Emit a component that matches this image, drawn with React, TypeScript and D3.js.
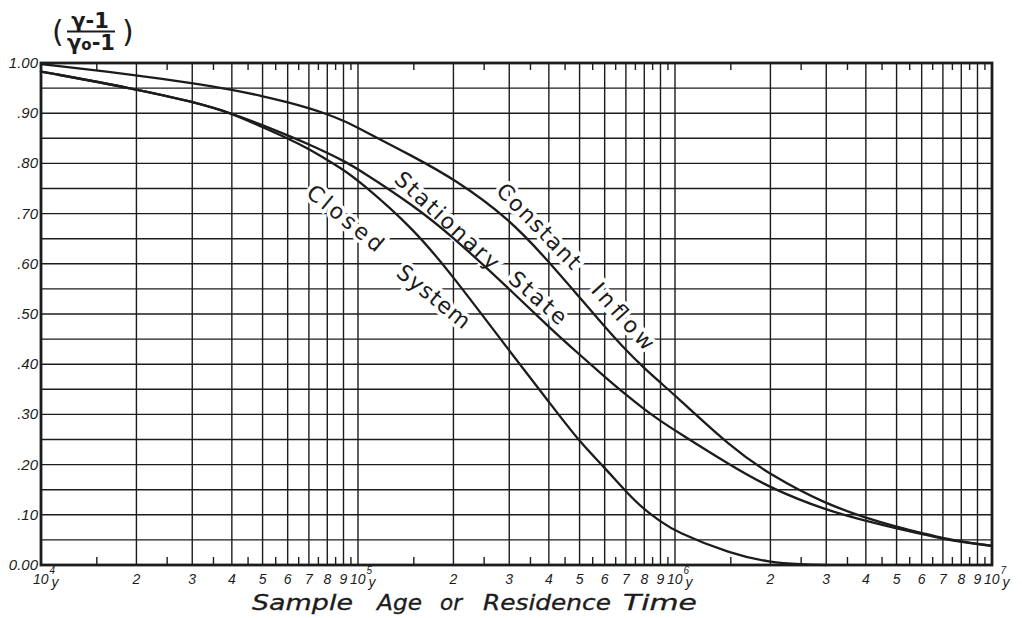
import React from 'react';
import * as d3 from 'd3';

// Ages (years) and normalised ratio (γ-1)/(γo-1) for each model curve
const constantInflowAge = [1e4, 2e4, 3e4, 4e4, 5e4, 6e4, 7e4, 8e4, 9e4, 1e5, 1.5e5, 2e5, 3e5, 4e5, 5e5, 6e5, 7e5, 8e5, 9e5, 1e6, 1.5e6, 2e6, 3e6, 4e6, 5e6, 6e6, 7e6, 8e6, 1e7];
const constantInflow = [0.998, 0.976, 0.96, 0.947, 0.934, 0.922, 0.91, 0.898, 0.885, 0.871, 0.813, 0.77, 0.69, 0.604, 0.533, 0.475, 0.428, 0.392, 0.363, 0.338, 0.235, 0.179, 0.121, 0.094, 0.076, 0.064, 0.053, 0.047, 0.038];

const stationaryAge = [1e4, 2e4, 3e4, 4e4, 5e4, 6e4, 7e4, 8e4, 9e4, 1e5, 1.5e5, 2e5, 3e5, 4e5, 5e5, 6e5, 7e5, 8e5, 9e5, 1e6, 1.5e6, 2e6, 3e6, 4e6, 5e6, 6e6, 7e6, 8e6, 1e7];
const stationaryState = [0.983, 0.948, 0.923, 0.9, 0.876, 0.856, 0.838, 0.821, 0.805, 0.789, 0.716, 0.653, 0.55, 0.474, 0.419, 0.375, 0.339, 0.31, 0.287, 0.268, 0.198, 0.153, 0.109, 0.088, 0.073, 0.062, 0.052, 0.046, 0.038];

const closedAge = [1e4, 2e4, 3e4, 4e4, 5e4, 6e4, 7e4, 8e4, 9e4, 1e5, 1.5e5, 2e5, 3e5, 4e5, 5e5, 6e5, 7e5, 8e5, 9e5, 1e6, 1.5e6, 2e6, 2.5e6, 3e6];
const closedSystem = [0.983, 0.948, 0.923, 0.9, 0.872, 0.85, 0.829, 0.807, 0.787, 0.767, 0.67, 0.574, 0.427, 0.325, 0.245, 0.194, 0.146, 0.11, 0.087, 0.067, 0.022, 0.005, 0.001, 0];

// Axis tick labels
const yTickValues = [0, 0.1, 0.2, 0.3, 0.4, 0.5, 0.6, 0.7, 0.8, 0.9, 1.0];
const yTickLabels = ['0.00', '.10', '.20', '.30', '.40', '.50', '.60', '.70', '.80', '.90', '1.00'];
const decadeExponents = [4, 5, 6, 7];
const decadeDigits = [2, 3, 4, 5, 6, 7, 8, 9];
const axisTitleWords = ['Sample', 'Age', 'or', 'Residence', 'Time'];

const W = 1022;
const H = 618;
const INK = '#1c1c1c';

export default function App() {
  const x = d3.scaleLog().domain([1e4, 1e7]).range([41, 992]);
  const y = d3.scaleLinear().domain([0, 1]).range([565, 63]);

  const decades = [1e4, 1e5, 1e6];
  const vGrid: number[] = [];
  const halfTicks: number[] = [];
  decades.forEach((d) => {
    decadeDigits.forEach((k) => vGrid.push(k * d));
    if (d > 1e4) vGrid.push(d);
    for (let k = 1; k <= 9; k++) halfTicks.push((k + 0.5) * d);
  });
  const hGrid = d3.range(1, 20).map((i) => i * 0.05);

  const line = d3
    .line<[number, number]>()
    .x((d) => x(d[0]))
    .y((d) => y(d[1]))
    .curve(d3.curveBasis);

  const series = [
    { name: 'Constant Inflow', ages: constantInflowAge, values: constantInflow },
    { name: 'Stationary State', ages: stationaryAge, values: stationaryState },
    { name: 'Closed System', ages: closedAge, values: closedSystem },
  ];

  // rotated curve captions: [text, start x, start y, end x, end y]
  const captions: [string, number, number, number, number][] = [
    ['Constant', 495, 192, 572, 271],
    ['Inflow', 590, 291, 645, 352],
    ['Stationary', 393, 181, 491, 271],
    ['State', 507, 281, 559, 326],
    ['Closed', 305, 195, 376, 253],
    ['System', 395, 275, 463, 330],
  ];

  // word extents for the horizontal axis title
  const titleSpans: [number, number][] = [
    [252, 353],
    [377, 422],
    [440, 462],
    [483, 611],
    [623, 697],
  ];

  const [x0, x1] = x.range();
  const [yb, yt] = y.range();

  return (
    <svg
      width={W}
      height={H}
      viewBox={`0 0 ${W} ${H}`}
      style={{ position: 'absolute', left: 0, top: 0, background: '#fff' }}
    >
      <rect x={0} y={0} width={W} height={H} fill="#fff" />

      {/* grid */}
      <g stroke={INK} strokeWidth={1.4}>
        {vGrid.map((v) => (
          <line key={'v' + v} x1={x(v)} x2={x(v)} y1={yt} y2={yb} />
        ))}
        {hGrid.map((v) => (
          <line key={'h' + v} x1={x0} x2={x1} y1={y(v)} y2={y(v)} />
        ))}
        {halfTicks.map((v) => (
          <g key={'t' + v}>
            <line x1={x(v)} x2={x(v)} y1={yt} y2={yt + 7} />
            <line x1={x(v)} x2={x(v)} y1={yb} y2={yb - 8} />
          </g>
        ))}
      </g>

      {/* curve captions */}
      <g
        fontFamily="DejaVu Sans, sans-serif"
        fontSize={22}
        fill={INK}
        stroke="#fff"
        strokeWidth={7}
        style={{ paintOrder: 'stroke' }}
      >
        {captions.map(([t, sx, sy, ex, ey]) => {
          const ang = (Math.atan2(ey - sy, ex - sx) * 180) / Math.PI;
          const len = Math.hypot(ex - sx, ey - sy);
          return (
            <text
              key={t}
              transform={`translate(${sx},${sy}) rotate(${ang})`}
              textLength={len}
              lengthAdjust="spacing"
            >
              {t}
            </text>
          );
        })}
      </g>

      {/* curves */}
      <g fill="none" stroke={INK} strokeWidth={2.3} strokeLinecap="round">
        {series.map((s) => (
          <path
            key={s.name}
            d={line(s.ages.map((a, i) => [a, s.values[i]] as [number, number])) || ''}
          />
        ))}
      </g>

      {/* frame */}
      <rect
        x={x0}
        y={yt}
        width={x1 - x0}
        height={yb - yt}
        fill="none"
        stroke={INK}
        strokeWidth={2.8}
      />

      {/* y tick labels */}
      <g fontFamily="Liberation Sans, Arial, sans-serif" fontStyle="italic" fontSize={15} fill={INK} textAnchor="end">
        {yTickValues.map((v, i) => (
          <text key={v} x={38} y={y(v) + 5}>
            {yTickLabels[i]}
          </text>
        ))}
      </g>

      {/* x tick labels */}
      <g fontFamily="Liberation Sans, Arial, sans-serif" fontStyle="italic" fontSize={14} fill={INK}>
        {decades.map((d) =>
          decadeDigits.map((k) => (
            <text key={'d' + k * d} x={x(k * d)} y={584} textAnchor="middle">
              {k}
            </text>
          ))
        )}
        {decadeExponents.map((e) => {
          const gx = x(Math.pow(10, e)) - 8;
          return (
            <g key={'e' + e}>
              <text x={gx} y={584} fontSize={14}>10</text>
              <text x={gx + 16.5} y={574} fontSize={10}>{e}</text>
              <text x={gx + 18.5} y={587} fontSize={14}>y</text>
            </g>
          );
        })}
      </g>

      {/* x axis title */}
      <g fontFamily="DejaVu Sans, sans-serif" fontStyle="italic" fontSize={21} fill={INK} stroke={INK} strokeWidth={0.3}>
        {axisTitleWords.map((w, i) => (
          <text
            key={w}
            x={titleSpans[i][0]}
            y={610}
            textLength={titleSpans[i][1] - titleSpans[i][0]}
            lengthAdjust="spacingAndGlyphs"
          >
            {w}
          </text>
        ))}
      </g>

      {/* y axis title: (γ-1)/(γo-1) */}
      <g fontFamily="DejaVu Sans, sans-serif" fill={INK} fontWeight="bold">
        <text x={52} y={42} fontSize={30} fontWeight="normal">(</text>
        <text x={90} y={28} fontSize={21} textAnchor="middle">γ-1</text>
        <line x1={67} x2={115} y1={31.5} y2={31.5} stroke={INK} strokeWidth={2} />
        <text x={91} y={50} fontSize={21} textAnchor="middle">
          γ<tspan fontSize={15}>o</tspan>-1
        </text>
        <text x={122} y={42} fontSize={30} fontWeight="normal">)</text>
      </g>
    </svg>
  );
}
